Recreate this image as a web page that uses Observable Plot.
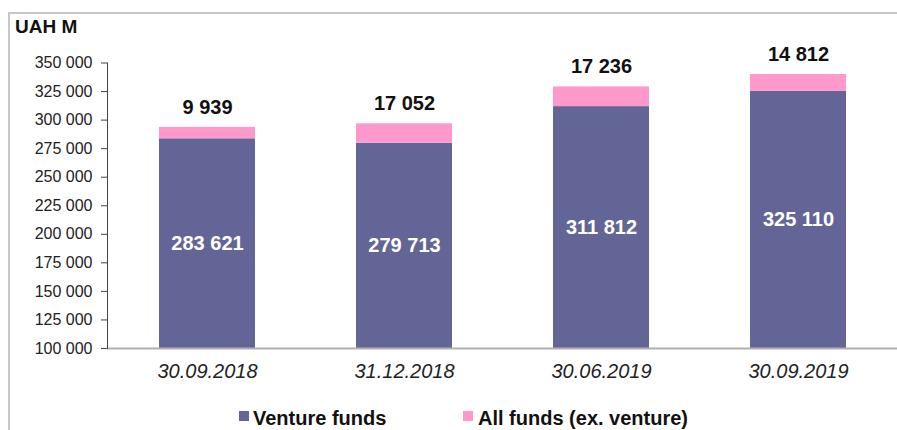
<!DOCTYPE html>
<html><head><meta charset="utf-8">
<script src="https://cdn.jsdelivr.net/npm/d3@7"></script>
<script src="https://cdn.jsdelivr.net/npm/@observablehq/plot@0.6"></script>
<style>
html,body{margin:0;padding:0;background:#fff;font-family:"Liberation Sans",Arial,sans-serif;overflow:hidden}
#wrap{position:relative;width:897px;height:430px;overflow:hidden;background:#fff}
#chart{position:absolute;left:0;top:0;width:897px;height:430px}
#chart svg{max-width:none}
#lineTop{position:absolute;left:8px;top:12px;width:889px;height:2px;background:#c8c8c8}
#lineLeft{position:absolute;left:8px;top:12px;width:2px;height:418px;background:#c8c8c8}
#title{position:absolute;left:15px;top:16px;font-weight:bold;font-size:19px;color:#111}
.lg{position:absolute;top:407px;font-weight:bold;font-size:20px;color:#111;white-space:nowrap}
.sw{position:absolute;top:411px;width:10px;height:10px}
</style></head>
<body><div id="wrap"><div id="chart"></div><div id="lineTop"></div><div id="lineLeft"></div><div id="title">UAH M</div></div>
<script>
const dates = ["30.09.2018", "31.12.2018", "30.06.2019", "30.09.2019"];
const venture = [283621, 279713, 311812, 325110];
const other = [9939, 17052, 17236, 14812];
const yTicks = [100000, 125000, 150000, 175000, 200000, 225000, 250000, 275000, 300000, 325000, 350000];
const seriesNames = ["Venture funds", "All funds (ex. venture)"];
const seriesColors = ["#636596", "#ff99cc"];

const fmt = v => d3.format(",")(v).replace(/,/g, " ");
const rows = dates.map((d, i) => ({date: d, venture: venture[i], other: other[i], total: venture[i] + other[i]}));

const plot = Plot.plot({
  width: 897, height: 430,
  marginLeft: 107, marginRight: 0, marginTop: 62.5, marginBottom: 82,
  style: {background: "transparent", fontFamily: "'Liberation Sans', Arial, sans-serif", maxWidth: "none"},
  x: {domain: dates, paddingInner: 0.514, paddingOuter: 0.257},
  y: {domain: [100000, 350000]},
  color: {domain: seriesNames, range: seriesColors},
  marks: [
    Plot.barY(rows, {x: "date", y1: 0, y2: "venture", fill: d => seriesNames[0], clip: true}),
    Plot.barY(rows, {x: "date", y1: "venture", y2: "total", fill: d => seriesNames[1], clip: true}),
    Plot.text(rows, {x: "date", y: d => (100000 + d.venture) / 2, text: d => fmt(d.venture), fill: "white", fontWeight: "bold", fontSize: 20}),
    Plot.text(rows, {x: "date", y: "total", dy: -20, text: d => fmt(d.other), fill: "#111", fontWeight: "bold", fontSize: 20}),
    Plot.axisY({ticks: yTicks, tickFormat: fmt, tickSize: 6, tickPadding: 9, fontSize: 16, stroke: "#444", color: "#222", label: null}),
    Plot.axisX({tickSize: 0, tickPadding: 15, fontSize: 20, fontStyle: "italic", color: "#222", label: null}),
    Plot.frame({anchor: "bottom", stroke: "#b0b0b0", strokeWidth: 2}),
    Plot.frame({anchor: "left", stroke: "#444"})
  ]
});
document.getElementById("chart").appendChild(plot);

const legendPos = [[239, 253], [463, 478]];
const wrap = document.getElementById("wrap");
seriesNames.forEach((name, i) => {
  const sw = document.createElement("div");
  sw.className = "sw"; sw.style.left = legendPos[i][0] + "px"; sw.style.background = seriesColors[i];
  const t = document.createElement("div");
  t.className = "lg"; t.style.left = legendPos[i][1] + "px"; t.textContent = name;
  wrap.appendChild(sw); wrap.appendChild(t);
});
</script></body></html>
